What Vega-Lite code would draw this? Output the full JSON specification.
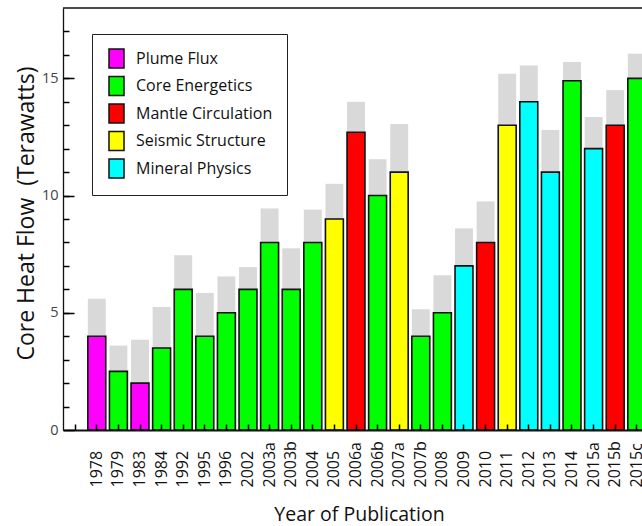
{
  "$schema": "https://vega.github.io/schema/vega-lite/v6.json",
  "width": 579,
  "height": 422,
  "autosize": {"type": "none"},
  "padding": {"left": 63, "top": 8, "right": 0, "bottom": 96},
  "background": "white",
  "view": {"stroke": null},
  "config": {
    "font": "Open Sans",
    "axis": {"labelFont": "Open Sans", "titleFont": "Open Sans", "titleFontWeight": "normal", "domainColor": "#111", "grid": false}
  },
  "resolve": {"axis": {"x": "independent", "y": "independent"}},
  "data": {
    "values": [
      {"year": "1978", "field": "Plume Flux", "flow": 4, "upper": 5.6},
      {"year": "1979", "field": "Core Energetics", "flow": 2.5, "upper": 3.6},
      {"year": "1983", "field": "Plume Flux", "flow": 2, "upper": 3.85},
      {"year": "1984", "field": "Core Energetics", "flow": 3.5, "upper": 5.25},
      {"year": "1992", "field": "Core Energetics", "flow": 6, "upper": 7.45},
      {"year": "1995", "field": "Core Energetics", "flow": 4, "upper": 5.85},
      {"year": "1996", "field": "Core Energetics", "flow": 5, "upper": 6.55},
      {"year": "2002", "field": "Core Energetics", "flow": 6, "upper": 6.95},
      {"year": "2003a", "field": "Core Energetics", "flow": 8, "upper": 9.45},
      {"year": "2003b", "field": "Core Energetics", "flow": 6, "upper": 7.75},
      {"year": "2004", "field": "Core Energetics", "flow": 8, "upper": 9.4},
      {"year": "2005", "field": "Seismic Structure", "flow": 9, "upper": 10.5},
      {"year": "2006a", "field": "Mantle Circulation", "flow": 12.7, "upper": 14},
      {"year": "2006b", "field": "Core Energetics", "flow": 10, "upper": 11.55},
      {"year": "2007a", "field": "Seismic Structure", "flow": 11, "upper": 13.05},
      {"year": "2007b", "field": "Core Energetics", "flow": 4, "upper": 5.15},
      {"year": "2008", "field": "Core Energetics", "flow": 5, "upper": 6.6},
      {"year": "2009", "field": "Mineral Physics", "flow": 7, "upper": 8.6},
      {"year": "2010", "field": "Mantle Circulation", "flow": 8, "upper": 9.75},
      {"year": "2011", "field": "Seismic Structure", "flow": 13, "upper": 15.2},
      {"year": "2012", "field": "Mineral Physics", "flow": 14, "upper": 15.55},
      {"year": "2013", "field": "Mineral Physics", "flow": 11, "upper": 12.8},
      {"year": "2014", "field": "Core Energetics", "flow": 14.9, "upper": 15.7},
      {"year": "2015a", "field": "Mineral Physics", "flow": 12, "upper": 13.35},
      {"year": "2015b", "field": "Mantle Circulation", "flow": 13, "upper": 14.5},
      {"year": "2015c", "field": "Core Energetics", "flow": 15, "upper": 16.05}
    ]
  },
  "layer": [
    {
      "mark": {"type": "bar", "color": "#d9d9d9", "stroke": null},
      "encoding": {
        "x": {
          "field": "year",
          "type": "nominal",
          "scale": {
            "domain": ["", "1978", "1979", "1983", "1984", "1992", "1995", "1996", "2002", "2003a", "2003b", "2004", "2005", "2006a", "2006b", "2007a", "2007b", "2008", "2009", "2010", "2011", "2012", "2013", "2014", "2015a", "2015b", "2015c"],
            "range": [0, 586],
            "paddingInner": 0.17,
            "paddingOuter": 0.15
          },
          "axis": {
            "orient": "bottom",
            "zindex": 1,
            "title": "Year of Publication",
            "titleFontSize": 19.5,
            "titleColor": "#111",
            "titleX": 296,
            "titleY": 90,
            "titleAnchor": "middle",
            "titleAlign": "center",
            "titleBaseline": "alphabetic",
            "labelAngle": 270,
            "labelAlign": "left",
            "labelBaseline": "middle",
            "labelFontSize": 16,
            "labelColor": "#111",
            "labelPadding": 57,
            "labelOverlap": false,
            "ticks": false,
            "domainWidth": 2
          }
        },
        "y": {
          "field": "upper",
          "type": "quantitative",
          "scale": {"domain": [0, 18], "nice": false},
          "axis": {
            "orient": "left",
            "zindex": 1,
            "title": "Core Heat Flow\u00a0 (Terawatts)",
            "titleFontSize": 23,
            "titleColor": "#111",
            "titleAngle": 270,
            "titleX": -30,
            "titleY": 205,
            "titleAlign": "center",
            "titleBaseline": "alphabetic",
            "values": [0, 5, 10, 15],
            "labelOverlap": false,
            "labelFontSize": 14.5,
            "labelColor": "#444",
            "labelPadding": 16,
            "ticks": true,
            "tickColor": "#000",
            "tickSize": -11,
            "tickWidth": 1.5,
            "domainWidth": 1.3
          }
        },
        "y2": {"field": "flow"}
      }
    },
    {
      "mark": {"type": "bar", "stroke": "#111", "strokeWidth": 1.6},
      "encoding": {
        "x": {
          "field": "year",
          "type": "nominal",
          "axis": {
            "orient": "top",
            "offset": -422,
            "zindex": 1,
            "title": null,
            "labels": false,
            "domain": false,
            "ticks": true,
            "tickColor": "#000",
            "tickSize": 6,
            "tickWidth": 1.5
          }
        },
        "y": {"field": "flow", "type": "quantitative", "axis": null},
        "color": {
          "field": "field",
          "type": "nominal",
          "scale": {
            "domain": ["Plume Flux", "Core Energetics", "Mantle Circulation", "Seismic Structure", "Mineral Physics"],
            "range": ["#ff00ff", "#00ff00", "#ff0000", "#ffff00", "#00ffff"]
          },
          "legend": {
            "title": null,
            "orient": "none",
            "legendX": 29,
            "legendY": 26,
            "padding": 14,
            "strokeColor": "#222",
            "fillColor": "white",
            "symbolType": "M-0.79,-1H0.79V1H-0.79Z",
            "symbolSize": 361,
            "symbolStrokeColor": "#111",
            "symbolStrokeWidth": 1.5,
            "symbolOpacity": 1,
            "labelFont": "Open Sans",
            "labelFontSize": 16,
            "labelColor": "#111",
            "labelOffset": 9,
            "rowPadding": 2.5
          }
        }
      }
    },
    {
      "data": {"values": [{}]},
      "mark": {"type": "rule", "color": "#111", "strokeWidth": 1.5},
      "encoding": {
        "y": {
          "datum": 18,
          "type": "quantitative",
          "axis": {
            "orient": "right",
            "offset": -579,
            "zindex": 1,
            "title": null,
            "values": [1, 2, 3, 4, 5, 6, 7, 8, 9, 10, 11, 12, 13, 14, 15, 16, 17],
            "labels": false,
            "domain": false,
            "ticks": true,
            "tickColor": "#000",
            "tickSize": 6,
            "tickWidth": 1.5
          }
        }
      }
    }
  ]
}
